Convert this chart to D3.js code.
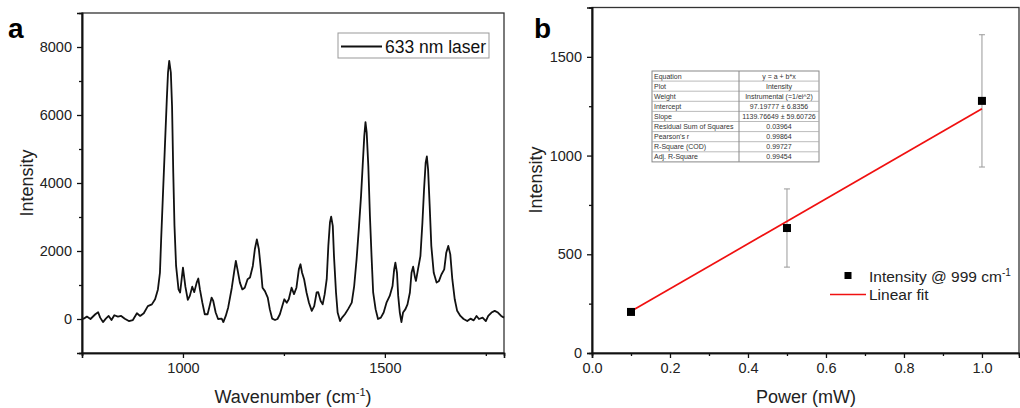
<!DOCTYPE html>
<html>
<head>
<meta charset="utf-8">
<script src="https://cdn.jsdelivr.net/npm/d3@7"></script>
<style>
body{margin:0;background:#fff;}
svg{display:block;font-family:"Liberation Sans",Arial,sans-serif;}
</style>
</head>
<body>
<svg id="fig" width="1020" height="408"></svg>
<script>
// panel a: Raman spectrum
var waveNum=[750,754,762,771,783,790,795,802,809,816,823,830,839,847,856,866,876,886,894,903,913,923,931,938,943,946,950,955,960,963,966,970,973,976,979,983,989,993,1000,1006,1012,1017,1023,1028,1034,1038,1042,1048,1054,1061,1067,1071,1075,1081,1087,1096,1100,1106,1112,1121,1127,1131,1135,1141,1147,1153,1160,1166,1173,1178,1183,1188,1193,1197,1203,1210,1215,1221,1228,1234,1240,1246,1251,1257,1262,1269,1275,1281,1287,1291,1295,1300,1306,1312,1319,1325,1331,1335,1341,1346,1351,1356,1360,1364,1367,1371,1374,1379,1383,1389,1394,1401,1409,1418,1424,1430,1436,1441,1445,1449,1452,1455,1459,1463,1467,1471,1477,1483,1490,1497,1504,1512,1519,1523,1526,1530,1533,1537,1541,1545,1551,1556,1562,1566,1570,1574,1577,1582,1588,1593,1597,1601,1604,1607,1611,1615,1621,1628,1634,1640,1647,1652,1657,1662,1667,1673,1679,1687,1695,1704,1712,1720,1727,1733,1742,1750,1756,1764,1772,1780,1788,1795];
var intensity=[0,10,70,0,140,200,40,-90,10,90,-30,110,70,90,10,-60,-30,170,90,170,380,430,580,870,1360,2340,3520,4990,6460,7250,7590,7250,6260,4300,2740,1560,870,780,1510,950,560,680,950,790,1070,1190,870,480,140,140,430,630,530,190,0,10,-90,90,340,920,1410,1710,1460,1070,870,920,1170,1220,1560,2050,2340,2050,1460,920,820,630,290,10,-30,0,140,380,580,480,580,920,730,920,1460,1610,1360,1170,780,480,240,380,780,790,530,430,730,1170,2150,2840,3010,2740,1850,780,190,-60,40,140,290,480,970,1760,2740,3620,4500,5380,5790,5480,4500,3030,1850,780,290,0,40,190,480,680,970,1460,1660,1360,680,190,-90,190,290,430,780,1360,1540,1260,1120,1460,1850,2840,3810,4600,4780,4400,3320,2150,1360,1070,1120,1310,1460,1950,2150,1900,1170,580,240,90,0,-60,10,-40,90,0,40,-60,90,190,240,190,90,40];
var specXTicks=[1000,1500];
var specXMinor=[750,1250,1750];
var specYTicks=[0,2000,4000,6000,8000];
var specYMinor=[-1000,1000,3000,5000,7000];

// panel b: power series
var power=[0.1,0.5,1.0];
var peakInt=[208,633,1277];
var peakErr=[10,198,335];
var fitX=[0.1,1.0];
var fitY=[211,1237];
var powXTicks=[0.0,0.2,0.4,0.6,0.8,1.0];
var powXMinor=[0.1,0.3,0.5,0.7,0.9];
var powYTicks=[0,500,1000,1500];
var powYMinor=[250,750,1250];
var tableRows=[["Equation","y = a + b*x"],["Plot","Intensity"],["Weight","Instrumental (=1/ei^2)"],["Intercept","97.19777 \u00b1 6.8356"],["Slope","1139.76649 \u00b1 59.60726"],["Residual Sum of Squares","0.03964"],["Pearson's r","0.99864"],["R-Square (COD)","0.99727"],["Adj. R-Square","0.99454"]];

var svg=d3.select("#fig");

function frame(g,x,y){
  var r=x.range(),t=y.range();
  g.append("rect").attr("x",r[0]).attr("y",t[1]).attr("width",r[1]-r[0]).attr("height",t[0]-t[1])
   .attr("fill","none").attr("stroke","#333").attr("stroke-width",1.3);
}
function axes(g,x,y,xt,xm,yt,ym,xf,yf){
  var r=y.range();
  var gx=g.append("g").attr("transform","translate(0,"+r[0]+")")
    .call(d3.axisBottom(x).tickValues(xt).tickSize(5).tickPadding(5).tickFormat(xf));
  var gxm=g.append("g").attr("transform","translate(0,"+r[0]+")")
    .call(d3.axisBottom(x).tickValues(xm).tickSize(3).tickFormat(""));
  var gy=g.append("g").attr("transform","translate("+x.range()[0]+",0)")
    .call(d3.axisLeft(y).tickValues(yt).tickSize(5).tickPadding(5).tickFormat(yf));
  var gym=g.append("g").attr("transform","translate("+x.range()[0]+",0)")
    .call(d3.axisLeft(y).tickValues(ym).tickSize(3).tickFormat(""));
  [gx,gxm,gy,gym].forEach(function(a){
    a.select(".domain").attr("stroke","#111").attr("stroke-width",1.6);
    a.selectAll(".tick line").attr("stroke","#111").attr("stroke-width",1.3);
    a.selectAll("text").attr("font-size",14.5).attr("fill","#222")
     .attr("font-family","'Liberation Sans',Arial,sans-serif");
  });
}

// ---- panel a ----
var xA=d3.scaleLinear().domain([750,1795]).range([82,504]);
var yA=d3.scaleLinear().domain([-1000,9000]).range([353,13]);
var gA=svg.append("g");
frame(gA,xA,yA);
axes(gA,xA,yA,specXTicks,specXMinor,specYTicks,specYMinor,d3.format("d"),d3.format("d"));

var spec=waveNum.map(function(w,i){return [w,intensity[i]];});
gA.append("path").datum(spec)
  .attr("d",d3.line().x(function(d){return xA(d[0]);}).y(function(d){return yA(d[1]);}))
  .attr("fill","none").attr("stroke","#111").attr("stroke-width",1.8).attr("stroke-linejoin","round");

// legend a
gA.append("rect").attr("x",338).attr("y",33).attr("width",151).attr("height",25)
  .attr("fill","#fff").attr("stroke","#999").attr("stroke-width",1);
gA.append("line").attr("x1",341).attr("x2",382).attr("y1",46.5).attr("y2",46.5)
  .attr("stroke","#111").attr("stroke-width",1.8);
gA.append("text").attr("x",385).attr("y",52.5).attr("font-size",17.5).attr("fill","#111").text("633 nm laser");

gA.append("text").attr("x",8).attr("y",38).attr("font-size",28).attr("font-weight","bold").text("a");
gA.append("text").attr("transform","translate(33,183)rotate(-90)").attr("text-anchor","middle")
  .attr("font-size",18).attr("fill","#222").text("Intensity");
var tA=gA.append("text").attr("x",293).attr("y",403).attr("text-anchor","middle").attr("font-size",18).attr("fill","#222");
tA.append("tspan").text("Wavenumber (cm");
tA.append("tspan").attr("font-size",11).attr("dy",-7).text("-1");
tA.append("tspan").attr("dy",7).text(")");

// ---- panel b ----
var xB=d3.scaleLinear().domain([0,1.095]).range([592,1019]);
var yB=d3.scaleLinear().domain([0,1750]).range([353,7.5]);
var gB=svg.append("g");
frame(gB,xB,yB);
axes(gB,xB,yB,powXTicks,powXMinor,powYTicks,powYMinor,d3.format(".1f"),d3.format("d"));

// fit table
var tx0=652,tx1=819,tcol=739,ty0=71,rh=10.1;
var gT=gB.append("g");
gT.append("rect").attr("x",tx0).attr("y",ty0).attr("width",tx1-tx0).attr("height",rh*tableRows.length)
  .attr("fill","#fff").attr("stroke","#888").attr("stroke-width",1);
tableRows.forEach(function(r,i){
  var y=ty0+i*rh;
  if(i>0) gT.append("line").attr("x1",tx0).attr("x2",tx1).attr("y1",y).attr("y2",y).attr("stroke","#aaa").attr("stroke-width",0.8);
  gT.append("text").attr("x",tx0+2).attr("y",y+7.6).attr("font-size",7).attr("fill","#333").text(r[0]);
  gT.append("text").attr("x",(tcol+tx1)/2).attr("y",y+7.6).attr("font-size",7).attr("fill","#333")
    .attr("text-anchor","middle").text(r[1]);
});
gT.append("line").attr("x1",tcol).attr("x2",tcol).attr("y1",ty0).attr("y2",ty0+rh*tableRows.length)
  .attr("stroke","#888").attr("stroke-width",1);

// error bars
var pts=power.map(function(p,i){return {x:p,y:peakInt[i],e:peakErr[i]};});
var eb=gB.selectAll(".eb").data(pts).enter().append("g").attr("stroke","#999").attr("stroke-width",1);
eb.append("line").attr("x1",function(d){return xB(d.x);}).attr("x2",function(d){return xB(d.x);})
  .attr("y1",function(d){return yB(d.y-d.e);}).attr("y2",function(d){return yB(d.y+d.e);});
eb.append("line").attr("x1",function(d){return xB(d.x)-3;}).attr("x2",function(d){return xB(d.x)+3;})
  .attr("y1",function(d){return yB(d.y+d.e);}).attr("y2",function(d){return yB(d.y+d.e);});
eb.append("line").attr("x1",function(d){return xB(d.x)-3;}).attr("x2",function(d){return xB(d.x)+3;})
  .attr("y1",function(d){return yB(d.y-d.e);}).attr("y2",function(d){return yB(d.y-d.e);});

// fit line
gB.append("path").datum(fitX.map(function(x,i){return [x,fitY[i]];}))
  .attr("d",d3.line().x(function(d){return xB(d[0]);}).y(function(d){return yB(d[1]);}))
  .attr("fill","none").attr("stroke","#f01010").attr("stroke-width",1.7);

// points
gB.selectAll(".pt").data(pts).enter().append("rect")
  .attr("x",function(d){return xB(d.x)-4;}).attr("y",function(d){return yB(d.y)-4;})
  .attr("width",8).attr("height",8).attr("fill","#000");

// legend b
gB.append("rect").attr("x",844.5).attr("y",272).attr("width",7).attr("height",7).attr("fill","#000");
var lb=gB.append("text").attr("x",869).attr("y",281.5).attr("font-size",15.5).attr("fill","#222");
lb.append("tspan").text("Intensity @ 999 cm");
lb.append("tspan").attr("font-size",10).attr("dy",-6).text("-1");
gB.append("line").attr("x1",830).attr("x2",866).attr("y1",294.5).attr("y2",294.5).attr("stroke","#f01010").attr("stroke-width",1.7);
gB.append("text").attr("x",869).attr("y",300).attr("font-size",15.5).attr("fill","#222").text("Linear fit");

gB.append("text").attr("x",534).attr("y",38).attr("font-size",28).attr("font-weight","bold").text("b");
gB.append("text").attr("transform","translate(542,180)rotate(-90)").attr("text-anchor","middle")
  .attr("font-size",18).attr("fill","#222").text("Intensity");
gB.append("text").attr("x",806).attr("y",403).attr("text-anchor","middle").attr("font-size",18).attr("fill","#222").text("Power (mW)");
</script>
</body>
</html>
